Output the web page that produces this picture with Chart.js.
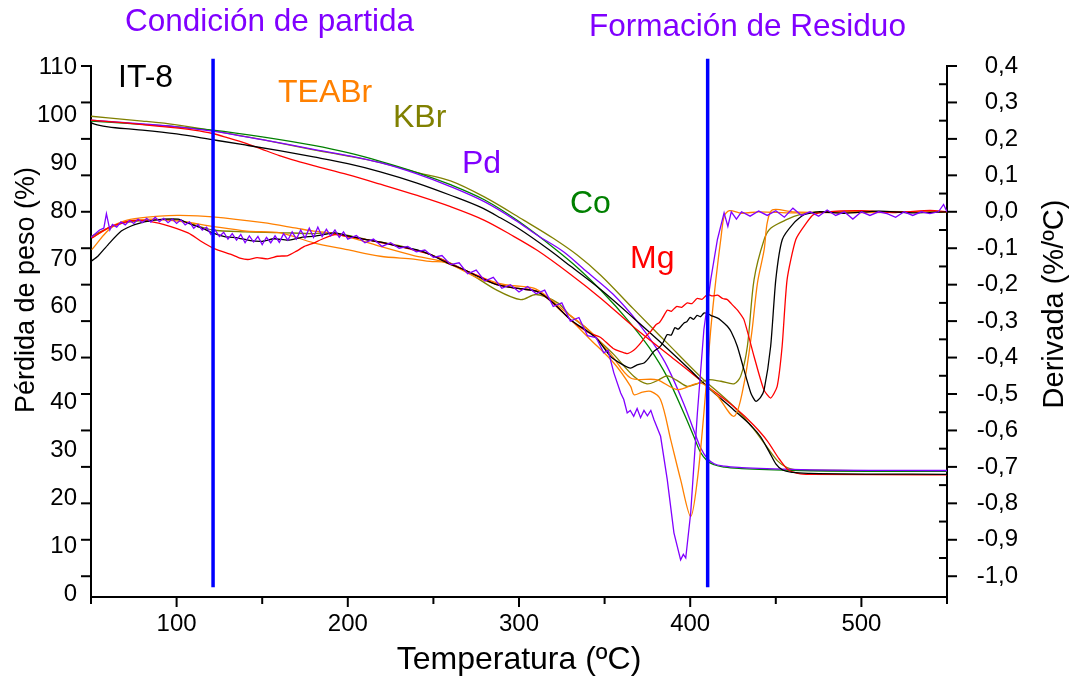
<!DOCTYPE html>
<html>
<head>
<meta charset="utf-8">
<script src="https://cdn.jsdelivr.net/npm/chart.js@4.4.1/dist/chart.umd.min.js"></script>
<style>
  html, body { margin: 0; padding: 0; background: #ffffff; }
  canvas { display: block; }
</style>
</head>
<body>
<canvas id="tga" width="1070" height="677"></canvas>
<script>
// ---- Weight-loss curves (TG, %), left axis ----
const tgTempIT8 = [50, 55, 60, 70, 80, 100, 121, 140, 160, 180, 200, 219, 240, 260, 277.5, 289, 300, 318, 330, 347.7, 367, 386.6, 400, 410, 425.6, 436, 441, 446, 450, 454, 460, 470, 550];
const tgIT8     = [98.4, 97.9, 97.6, 97.2, 96.9, 96.1, 94.9, 93.8, 92.6, 91.3, 89.9, 88.2, 85.9, 83.3, 80.8, 78.6, 76.3, 71.8, 68.5, 63.6, 57.6, 51.3, 46.8, 43.3, 38.4, 35.0, 32.9, 29.8, 27.2, 25.9, 25.4, 25.2, 25.0];

const tgTempMg = [50, 70, 90, 110, 121, 130, 141, 150, 160, 170, 180, 200, 219, 240, 260, 279.5, 295, 310.6, 330, 347.7, 367, 386.6, 400, 410, 425.6, 437, 445, 452, 457, 463, 470, 550];
const tgMg     = [99.0, 98.4, 97.7, 96.9, 96.2, 95.3, 94.1, 92.9, 91.6, 90.5, 89.5, 87.6, 85.6, 83.3, 80.9, 78.1, 75.1, 71.8, 66.8, 61.8, 55.8, 50.2, 46.4, 43.4, 39.1, 35.3, 32.0, 28.2, 26.0, 25.2, 25.0, 24.9];

const tgTempCo = [50, 80, 100, 121, 150, 180, 200, 219, 240, 260, 280, 300, 322, 335, 347.7, 365, 376, 386.6, 396.4, 402, 406, 410, 414, 420, 430, 465, 550];
const tgCo     = [98.8, 98.1, 97.6, 96.9, 95.5, 93.7, 92.2, 90.4, 88.1, 85.5, 82.3, 77.8, 71.8, 67.9, 63.5, 56.6, 51.5, 45.3, 37.7, 33.0, 29.6, 27.8, 27.0, 26.5, 26.2, 25.8, 25.6];

const tgTempPd = [50, 80, 100, 121, 150, 180, 200, 219, 240, 260, 280, 297.8, 310, 326, 340, 355, 370, 380, 386.6, 396.4, 402, 406, 410, 414, 420, 430, 465, 550];
const tgPd     = [99.0, 98.2, 97.6, 96.7, 94.9, 92.9, 91.6, 90.1, 87.8, 85.1, 81.9, 78.1, 75.1, 71.5, 67.2, 62.6, 56.5, 51.5, 47.5, 39.6, 34.3, 30.6, 28.3, 27.2, 26.7, 26.4, 26.0, 25.8];

const tgTempKBr = [50, 80, 100, 121, 150, 180, 200, 219, 240, 260, 280, 302.7, 320, 334, 347.7, 367, 386.6, 406, 425.6, 437, 445, 451, 456.6, 464.6, 550];
const tgKBr     = [99.8, 98.8, 98.0, 96.8, 94.9, 92.8, 91.5, 90.1, 88.1, 86.3, 82.9, 78.1, 74.3, 70.8, 66.6, 59.5, 52.4, 45.4, 39.1, 34.5, 30.6, 27.8, 26.4, 25.9, 25.7];

// ---- Derivative curves (DTG, %/ºC), right axis ----
const dtgTempIT8 = [50, 54, 60, 67.7, 75.5, 87, 101, 107, 115, 121, 128, 136, 143, 150, 157, 165, 173, 181, 192, 200, 210, 220, 230, 240, 248, 258, 268, 278, 287, 297, 310, 320, 330, 340, 346, 353.5, 360, 365.2, 369, 373, 376, 378.8, 382, 384, 386.6, 389, 391, 393, 396.4, 398, 400, 402, 404, 406, 408, 410, 412, 415.8, 418, 421.7, 424, 427.5, 431.4, 435.4, 438.3, 441, 443.2, 447, 450, 453.8, 460.5, 466.5, 475, 490, 510, 530, 550];
const dtgIT8     = [-0.136, -0.122, -0.09, -0.053, -0.035, -0.023, -0.02, -0.032, -0.045, -0.058, -0.068, -0.072, -0.079, -0.081, -0.074, -0.078, -0.07, -0.067, -0.058, -0.066, -0.076, -0.084, -0.095, -0.104, -0.117, -0.14, -0.159, -0.182, -0.2, -0.209, -0.218, -0.25, -0.296, -0.328, -0.351, -0.397, -0.418, -0.429, -0.42, -0.415, -0.4, -0.383, -0.372, -0.36, -0.337, -0.338, -0.318, -0.322, -0.305, -0.302, -0.29, -0.295, -0.284, -0.288, -0.278, -0.279, -0.284, -0.291, -0.298, -0.314, -0.33, -0.369, -0.433, -0.497, -0.52, -0.51, -0.488, -0.369, -0.186, -0.076, -0.031, -0.008, 0.0, -0.004, 0.002, -0.003, 0.0];

const dtgTempMg = [50.5, 60, 72, 81, 92.7, 106.7, 114, 121, 126, 131.8, 137, 141.6, 147, 153.3, 159, 165, 170, 174.7, 180, 184.5, 192, 200, 210, 220, 230, 240, 248, 258, 268, 278, 287, 297, 310, 320, 330, 340, 347.7, 355, 363, 367, 370, 374, 377, 380, 382, 384, 386.6, 389, 392, 395, 398.3, 401, 404, 407, 410, 413, 416, 419, 421.7, 424, 426, 428, 431.4, 437.3, 443, 447, 450.8, 453.7, 456.6, 461.7, 468, 472, 480, 500, 520, 540, 550];
const dtgMg     = [-0.072, -0.044, -0.026, -0.024, -0.035, -0.058, -0.08, -0.099, -0.108, -0.117, -0.127, -0.131, -0.126, -0.129, -0.122, -0.12, -0.108, -0.095, -0.086, -0.076, -0.063, -0.068, -0.076, -0.085, -0.095, -0.107, -0.117, -0.138, -0.159, -0.18, -0.2, -0.209, -0.218, -0.25, -0.296, -0.33, -0.345, -0.375, -0.389, -0.38, -0.366, -0.342, -0.328, -0.31, -0.304, -0.29, -0.27, -0.273, -0.26, -0.262, -0.25, -0.252, -0.238, -0.24, -0.227, -0.231, -0.229, -0.238, -0.241, -0.252, -0.262, -0.272, -0.296, -0.397, -0.488, -0.511, -0.479, -0.369, -0.186, -0.076, -0.03, -0.008, 0.0, 0.003, -0.002, 0.004, 0.0];

const dtgTempKBr = [50, 60, 70, 85, 100, 110, 121, 140, 160, 180, 192, 210, 230, 248, 268, 287, 301, 310, 322.6, 330, 340, 346, 355, 367, 374.8, 380, 386.6, 392, 398.3, 404, 410, 418, 425.6, 429.5, 433.4, 437.3, 443.2, 447, 456.6, 464, 475, 550];
const dtgKBr     = [-0.068, -0.045, -0.03, -0.022, -0.022, -0.035, -0.05, -0.055, -0.057, -0.06, -0.058, -0.075, -0.093, -0.117, -0.16, -0.215, -0.241, -0.227, -0.25, -0.285, -0.322, -0.35, -0.39, -0.451, -0.472, -0.465, -0.45, -0.462, -0.479, -0.472, -0.461, -0.465, -0.472, -0.451, -0.369, -0.186, -0.076, -0.045, -0.021, -0.008, 0.0, 0.0];

const dtgTempTEABr = [50.4, 63, 82.6, 102, 121, 141, 160.6, 180, 199.6, 219, 238.5, 248, 258, 277.5, 297, 310.6, 326, 341.8, 355.4, 365.2, 367.2, 372, 377, 382.7, 388.6, 394.4, 400.3, 404.2, 408, 412, 415, 418, 420, 423, 430, 440, 460, 500, 550];
const dtgTEABr     = [-0.104, -0.04, -0.021, -0.026, -0.04, -0.053, -0.058, -0.085, -0.104, -0.122, -0.13, -0.136, -0.14, -0.185, -0.209, -0.218, -0.278, -0.351, -0.415, -0.479, -0.502, -0.495, -0.493, -0.516, -0.625, -0.735, -0.836, -0.735, -0.552, -0.323, -0.186, -0.07, -0.01, 0.003, -0.004, 0.0, -0.003, 0.0, 0.0];

const dtgTempTEABr2 = [50.4, 62, 73, 90, 102, 121, 150.6, 170, 180, 190, 205, 219, 238.5, 254, 268, 287, 297, 310, 326, 342, 353.5, 365.2, 380.7, 392.4, 406, 415, 425.6, 431.5, 436, 439.3, 443.2, 445, 448, 460, 500, 550];
const dtgTEABr2     = [-0.072, -0.04, -0.021, -0.012, -0.01, -0.014, -0.03, -0.045, -0.053, -0.058, -0.075, -0.095, -0.12, -0.135, -0.16, -0.195, -0.203, -0.212, -0.27, -0.33, -0.39, -0.456, -0.461, -0.488, -0.47, -0.5, -0.561, -0.47, -0.33, -0.195, -0.104, -0.03, 0.005, 0.0, -0.002, 0.0];

const dtgTempPd = [50, 52.5, 55, 57.5, 59, 61, 62.5, 65, 67.5, 70, 72.5, 75, 77.5, 80, 82.5, 85, 87.5, 90, 92.5, 95, 97.5, 100, 102.5, 105, 107.5, 110, 112.5, 115, 117.5, 120, 122.5, 125, 127.5, 130, 132.5, 135, 137.5, 140, 142.5, 145, 147.5, 150, 152.5, 155, 157.5, 160, 162.5, 165, 167.5, 170, 172.5, 175, 177.5, 180, 182.5, 185, 187.5, 190, 192.5, 195, 197.5, 200, 205, 210, 215, 220, 225, 230, 235, 240, 245, 250, 255, 260, 265, 270, 275, 280, 285, 290, 295, 300, 305, 310, 315, 320, 325, 330, 335, 340, 345, 349.5, 352, 355.4, 359.4, 361.2, 363.2, 365, 367, 369, 371, 373, 375, 377, 378.8, 382.7, 386.6, 390.5, 394.4, 396, 397.4, 400.3, 404.2, 408, 412, 415.9, 419.8, 422, 424, 427, 430, 435, 440, 445, 450, 455, 460, 465, 470, 475, 480, 485, 490, 495, 500, 505, 510, 515, 520, 525, 530, 535, 540, 545, 548, 550];
const dtgPd     = [-0.07, -0.06, -0.05, -0.045, -0.005, -0.05, -0.035, -0.042, -0.028, -0.036, -0.024, -0.032, -0.02, -0.03, -0.018, -0.028, -0.015, -0.027, -0.018, -0.03, -0.02, -0.032, -0.022, -0.036, -0.028, -0.045, -0.035, -0.05, -0.042, -0.062, -0.05, -0.068, -0.056, -0.075, -0.06, -0.078, -0.062, -0.085, -0.066, -0.083, -0.068, -0.09, -0.07, -0.085, -0.066, -0.084, -0.06, -0.078, -0.055, -0.075, -0.05, -0.072, -0.045, -0.07, -0.042, -0.068, -0.048, -0.066, -0.05, -0.07, -0.055, -0.075, -0.065, -0.085, -0.075, -0.095, -0.085, -0.1, -0.095, -0.11, -0.105, -0.125, -0.12, -0.145, -0.14, -0.17, -0.16, -0.19, -0.18, -0.21, -0.2, -0.22, -0.205, -0.225, -0.215, -0.26, -0.25, -0.3, -0.29, -0.34, -0.345, -0.387, -0.38, -0.442, -0.497, -0.515, -0.552, -0.545, -0.561, -0.54, -0.565, -0.545, -0.56, -0.545, -0.57, -0.616, -0.735, -0.881, -0.955, -0.94, -0.95, -0.826, -0.552, -0.323, -0.186, -0.076, -0.003, -0.04, 0.0, -0.02, 0.0, -0.012, 0.002, -0.01, 0.003, -0.015, 0.01, -0.01, 0.0, -0.012, 0.005, -0.01, 0.0, -0.02, 0.0, -0.01, 0.0, -0.005, -0.015, 0.0, -0.01, 0.0, -0.005, 0.0, 0.02, 0.0];

// ---- Axis ticks and reference temperatures ----
const tempTicks = [100, 200, 300, 400, 500];
const tempTickMarks = [50, 100, 150, 200, 250, 300, 350, 400, 450, 500, 550];
const weightTicks = [0, 10, 20, 30, 40, 50, 60, 70, 80, 90, 100, 110];
const derivTicks = [0.4, 0.3, 0.2, 0.1, 0.0, -0.1, -0.2, -0.3, -0.4, -0.5, -0.6, -0.7, -0.8, -0.9, -1.0];
const derivMinorTicks = [0.35, 0.25, 0.15, 0.05, -0.05, -0.15, -0.25, -0.35, -0.45, -0.55, -0.65, -0.75, -0.85, -0.95];
const stageTemps = [121.3, 410.2];

const FONT = "'Liberation Sans', Arial, Helvetica, sans-serif";
const C = { black: '#000000', red: '#ff0000', purple: '#8000ff', green: '#008000', olive: '#808000', orange: '#ff8000', blue: '#0000ff' };

const pts = (xs, ys) => xs.map((x, i) => ({ x: x, y: ys[i] }));
const tgSet = (data, color) => ({ data, borderColor: color, borderWidth: 1.3, pointRadius: 0, yAxisID: 'y', cubicInterpolationMode: 'monotone', fill: false });
const dtgSet = (data, color, tension) => ({ data, borderColor: color, borderWidth: 1.3, pointRadius: 0, yAxisID: 'y1', tension: tension, fill: false });

// tick marks (the left axis carries marks at the derivative divisions), stage lines and annotations
const decorations = {
  id: 'decorations',
  afterDatasetsDraw(chart) {
    const { ctx, scales: { x, y1 } } = chart;
    ctx.save();
    ctx.strokeStyle = C.blue;
    ctx.lineWidth = 3.5;
    stageTemps.forEach(t => {
      const px = x.getPixelForValue(t);
      ctx.beginPath();
      ctx.moveTo(px, y1.getPixelForValue(0.42));
      ctx.lineTo(px, y1.getPixelForValue(-1.03));
      ctx.stroke();
    });
    ctx.restore();
  },
  afterDraw(chart) {
    const { ctx, chartArea: a, scales: { x, y1 } } = chart;
    ctx.save();
    ctx.strokeStyle = '#000';
    ctx.lineWidth = 2;
    const seg = (x0, y0, x1, yy1) => { ctx.beginPath(); ctx.moveTo(x0, y0); ctx.lineTo(x1, yy1); ctx.stroke(); };
    tempTickMarks.forEach(t => {
      const px = x.getPixelForValue(t);
      seg(px, a.bottom, px, a.bottom + (t % 100 === 0 ? 10 : 7));
    });
    derivTicks.forEach(v => {
      const py = y1.getPixelForValue(v);
      seg(a.right, py, a.right + 10, py);
      seg(a.left - 10, py, a.left, py);
    });
    derivMinorTicks.forEach(v => {
      const py = y1.getPixelForValue(v);
      seg(a.right - 8, py, a.right, py);
    });

    ctx.textBaseline = 'middle';
    ctx.textAlign = 'left';
    const txt = (s, px, py, color, size) => { ctx.fillStyle = color; ctx.font = size + 'px ' + FONT; ctx.fillText(s, px, py); };
    txt('Condición de partida', 125, 22, C.purple, 31.5);
    txt('Formación de Residuo', 589, 27, C.purple, 31.5);
    txt('IT-8', 118, 78, C.black, 32);
    txt('TEABr', 278, 93, C.orange, 32);
    txt('KBr', 393, 118, C.olive, 32);
    txt('Pd', 462, 164, C.purple, 32);
    txt('Co', 570, 204, C.green, 32);
    txt('Mg', 630, 259, C.red, 32);

    ctx.textAlign = 'center';
    txt('Temperatura (ºC)', 519, 660, C.black, 32);
    ctx.fillStyle = '#000';
    ctx.font = '27px ' + FONT;
    ctx.translate(27, 290);
    ctx.rotate(-Math.PI / 2);
    ctx.fillText('Pérdida de peso (%)', 0, 0);
    ctx.setTransform(1, 0, 0, 1, 0, 0);
    ctx.font = '29px ' + FONT;
    ctx.translate(1055, 304);
    ctx.rotate(-Math.PI / 2);
    ctx.fillText('Derivada (%/ºC)', 0, 0);
    ctx.restore();
  }
};

const tickFont = { family: FONT, size: 24 };

new Chart(document.getElementById('tga'), {
  type: 'line',
  data: {
    datasets: [
      dtgSet(pts(dtgTempPd, dtgPd), C.purple, 0),
      dtgSet(pts(dtgTempIT8, dtgIT8), C.black, 0.2),
      dtgSet(pts(dtgTempMg, dtgMg), C.red, 0.2),
      dtgSet(pts(dtgTempTEABr, dtgTEABr), C.orange, 0.3),
      dtgSet(pts(dtgTempTEABr2, dtgTEABr2), C.orange, 0.3),
      dtgSet(pts(dtgTempKBr, dtgKBr), C.olive, 0.3),
      tgSet(pts(tgTempIT8, tgIT8), C.black),
      tgSet(pts(tgTempMg, tgMg), C.red),
      tgSet(pts(tgTempPd, tgPd), C.purple),
      tgSet(pts(tgTempCo, tgCo), C.green),
      tgSet(pts(tgTempKBr, tgKBr), C.olive)
    ]
  },
  options: {
    responsive: false,
    animation: false,
    devicePixelRatio: 1,
    layout: { padding: { top: 66, left: 0, right: 52, bottom: 0 } },
    plugins: { legend: { display: false }, tooltip: { enabled: false } },
    scales: {
      x: {
        type: 'linear', min: 50, max: 550,
        afterBuildTicks: s => { s.ticks = tempTicks.map(v => ({ value: v })); },
        afterFit: s => { s.height = 80; },
        grid: { display: false, drawTicks: false },
        border: { display: true, width: 2, color: '#000' },
        ticks: { font: tickFont, color: '#000', padding: 13, maxRotation: 0, autoSkip: false }
      },
      y: {
        type: 'linear', position: 'left', min: -0.63, max: 110.3,
        afterBuildTicks: s => { s.ticks = weightTicks.map(v => ({ value: v })); },
        afterFit: s => { s.width = 91; },
        grid: { display: false, drawTicks: false },
        border: { display: true, width: 2, color: '#000' },
        ticks: { font: tickFont, color: '#000', padding: 14, autoSkip: false }
      },
      y1: {
        type: 'linear', position: 'right', min: -1.057, max: 0.4,
        afterBuildTicks: s => { s.ticks = derivTicks.map(v => ({ value: v })); },
        afterFit: s => { s.width = 71; },
        grid: { display: false, drawTicks: false },
        border: { display: true, width: 2, color: '#000' },
        ticks: {
          font: tickFont, color: '#000', padding: 20, autoSkip: false, crossAlign: 'far',
          callback: v => v.toFixed(1).replace('.', ',').replace('-0,0', '0,0')
        }
      }
    }
  },
  plugins: [decorations]
});
</script>
</body>
</html>
